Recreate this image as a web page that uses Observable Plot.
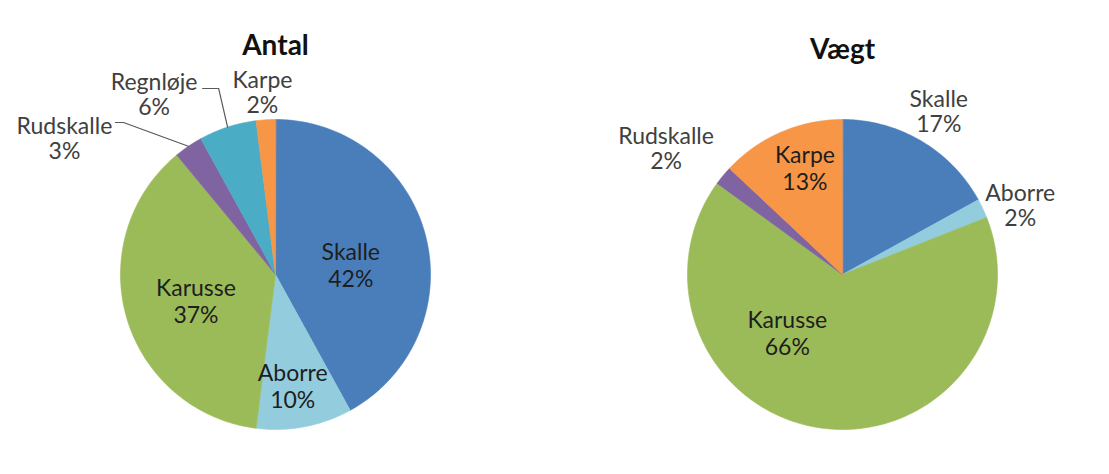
<!DOCTYPE html>
<html>
<head>
<meta charset="utf-8">
<script src="https://cdn.jsdelivr.net/npm/d3@7"></script>
<script src="https://cdn.jsdelivr.net/npm/@observablehq/plot@0.6"></script>
<style>
  html, body { margin: 0; padding: 0; background: #ffffff; }
  #chart { width: 1109px; height: 474px; }
</style>
</head>
<body>
<div id="chart"></div>
<script>
// ---- data ----
const species = ["Skalle", "Aborre", "Karusse", "Rudskalle", "Regnløje", "Karpe"];
const antalPct = [42, 10, 37, 3, 6, 2];
const vaegtPct = [17, 2, 66, 2, 0, 13];
const chartTitles = ["Antal", "Vægt"];

// ---- styles / layout (not data) ----
const palette = ["#4a7ebb", "#93cddd", "#9bbb59", "#8064a2", "#4bacc6", "#f79646"];
const labelLayout = {
  "Antal": {
    "Skalle": {r: 0.49, da: 7, inside: true},
    "Aborre": {r: 0.725, da: 2, inside: true},
    "Karusse": {r: 0.54, da: -2, inside: true},
    "Rudskalle": {r: 1.62, da: -23},
    "Regnløje": {r: 1.40, da: -16},
    "Karpe": {r: 1.18, da: -0.5}
  },
  "Vægt": {
    "Skalle": {r: 1.22, da: 0},
    "Aborre": {r: 1.23, da: 4},
    "Karusse": {r: 0.52, da: 36, inside: true},
    "Rudskalle": {r: 1.40, da: -4},
    "Karpe": {r: 0.73, da: 4, inside: true}
  }
};
const leaderLayout = {
  "Antal": {
    "Rudskalle": {r: 1.387, a: 315, stub: 8},
    "Regnløje": {r: 1.255, a: 343, stub: 16}
  }
};
const titleLift = {"Antal": 1.477, "Vægt": 1.445};
const PX = 155; // pixels per radius unit

// ---- build geometry from data ----
const valuesByChart = {"Antal": antalPct, "Vægt": vaegtPct};
const pie = d3.pie().sort(null).value(d => d.value);
const polys = [], labels = [], leaders = [];
const rad = deg => deg * Math.PI / 180;
for (const chart of chartTitles) {
  const rows = species.map((s, i) => ({species: s, value: valuesByChart[chart][i]}));
  const arcs = pie(rows);
  for (const a of arcs) {
    if (a.data.value <= 0) continue;
    const key = chart + "|" + a.data.species;
    polys.push({chart, key, species: a.data.species, x: 0, y: 0});
    const n = Math.max(2, Math.ceil((a.endAngle - a.startAngle) / rad(1)));
    for (let k = 0; k <= n; k++) {
      const t = a.startAngle + (a.endAngle - a.startAngle) * k / n;
      polys.push({chart, key, species: a.data.species, x: Math.sin(t), y: Math.cos(t)});
    }
    const mid = (a.startAngle + a.endAngle) / 2;
    const L = labelLayout[chart][a.data.species];
    if (L) {
      const ang = mid + rad(L.da);
      labels.push({
        chart, inside: !!L.inside,
        text: a.data.species + "\n" + a.data.value + "%",
        x: L.r * Math.sin(ang), y: L.r * Math.cos(ang)
      });
    }
    const Ld = (leaderLayout[chart] || {})[a.data.species];
    if (Ld) {
      const ex = Ld.r * Math.sin(rad(Ld.a)), ey = Ld.r * Math.cos(rad(Ld.a));
      leaders.push({chart, key, x: ex - Ld.stub / PX, y: ey});
      leaders.push({chart, key, x: ex, y: ey});
      leaders.push({chart, key, x: Math.sin(mid), y: Math.cos(mid)});
    }
  }
}
const titles = chartTitles.map(c => ({chart: c, x: 0, y: titleLift[c], text: c}));

const W = 1109, H = 474;
const plot = Plot.plot({
  width: W, height: H,
  marginLeft: 0, marginRight: 0, marginTop: 0, marginBottom: 0,
  style: {fontFamily: "Lato, 'Open Sans', sans-serif", background: "#ffffff"},
  fx: {domain: chartTitles, paddingInner: 25 / 567, paddingOuter: 0, axis: null},
  x: {domain: [-275 / PX, 267 / PX], axis: null},
  y: {domain: [-200 / PX, 274 / PX], axis: null},
  color: {domain: species, range: palette},
  marks: [
    Plot.line(polys, {
      fx: "chart", x: "x", y: "y", z: "key",
      fill: "species", stroke: "species", strokeWidth: 0.6,
      curve: "linear-closed"
    }),
    Plot.line(leaders, {
      fx: "chart", x: "x", y: "y", z: "key",
      stroke: "#595959", strokeWidth: 1.2
    }),
    Plot.text(labels.filter(d => d.inside), {
      fx: "chart", x: "x", y: "y", text: "text",
      fill: "#1e1e1e", fontSize: 23, lineHeight: 1.17
    }),
    Plot.text(labels.filter(d => !d.inside), {
      fx: "chart", x: "x", y: "y", text: "text",
      fill: "#404040", fontSize: 23, lineHeight: 1.1
    }),
    Plot.text(titles, {
      fx: "chart", x: "x", y: "y", text: "text",
      fill: "#111111", fontSize: 28, fontWeight: "bold"
    })
  ]
});
document.getElementById("chart").appendChild(plot);
</script>
</body>
</html>
